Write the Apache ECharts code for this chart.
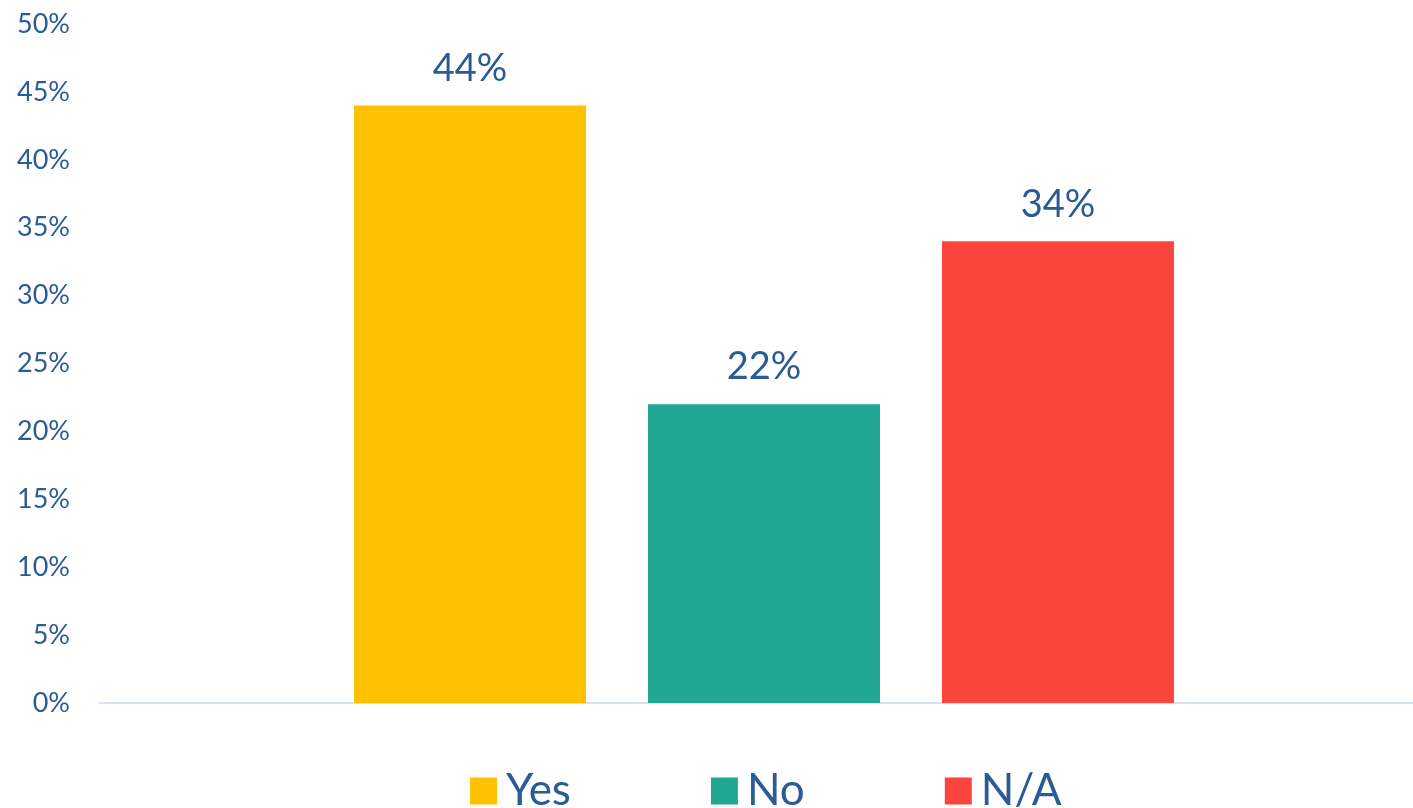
<!DOCTYPE html>
<html>
<head>
<meta charset="utf-8">
<script src="https://cdn.jsdelivr.net/npm/echarts@6/dist/echarts.min.js"></script>
<style>
  html, body { margin: 0; padding: 0; background: #fff; }
  #chart { width: 1413px; height: 808px; }
</style>
</head>
<body>
<div id="chart"></div>
<script>
// Survey answers, percentage of respondents
const categories = ['Answer'];
const seriesNames = ['Yes', 'No', 'N/A'];
const yesValues = [44];
const noValues = [22];
const naValues = [34];
const seriesColors = ['#ffc000', '#21a693', '#fa453c'];

const textColor = '#2a5b94';
const fontFamily = 'Lato, "Open Sans", sans-serif';

const valuesBySeries = [yesValues, noValues, naValues];

const chart = echarts.init(document.getElementById('chart'));
chart.setOption({
  animation: false,
  grid: { left: 100, width: 1328, top: 24, bottom: 105, containLabel: false, outerBoundsMode: 'none' },
  legend: {
    top: 764,
    left: 465,
    itemWidth: 27,
    itemHeight: 27,
    itemGap: 140,
    icon: 'rect',
    textStyle: { color: textColor, fontSize: 44, lineHeight: 44, fontFamily: fontFamily, padding: [0, 0, 0, 4] },
    data: seriesNames
  },
  xAxis: {
    type: 'category',
    data: categories,
    axisLine: { show: true, lineStyle: { color: '#d6e2f2', width: 2 } },
    axisTick: { show: false },
    axisLabel: { show: false }
  },
  yAxis: {
    type: 'value',
    min: 0,
    max: 50,
    interval: 5,
    axisLine: { show: false },
    axisTick: { show: false },
    splitLine: { show: false },
    axisLabel: {
      formatter: '{value}%',
      color: textColor,
      fontSize: 27,
      fontFamily: fontFamily,
      margin: 30
    }
  },
  series: seriesNames.map((name, i) => ({
    name: name,
    type: 'bar',
    data: valuesBySeries[i],
    barWidth: 232,
    barGap: '26.7%',
    itemStyle: { color: seriesColors[i] },
    label: {
      show: true,
      position: 'top',
      distance: 18,
      formatter: '{c}%',
      color: textColor,
      fontSize: 38,
      fontFamily: fontFamily
    }
  }))
});
</script>
</body>
</html>
